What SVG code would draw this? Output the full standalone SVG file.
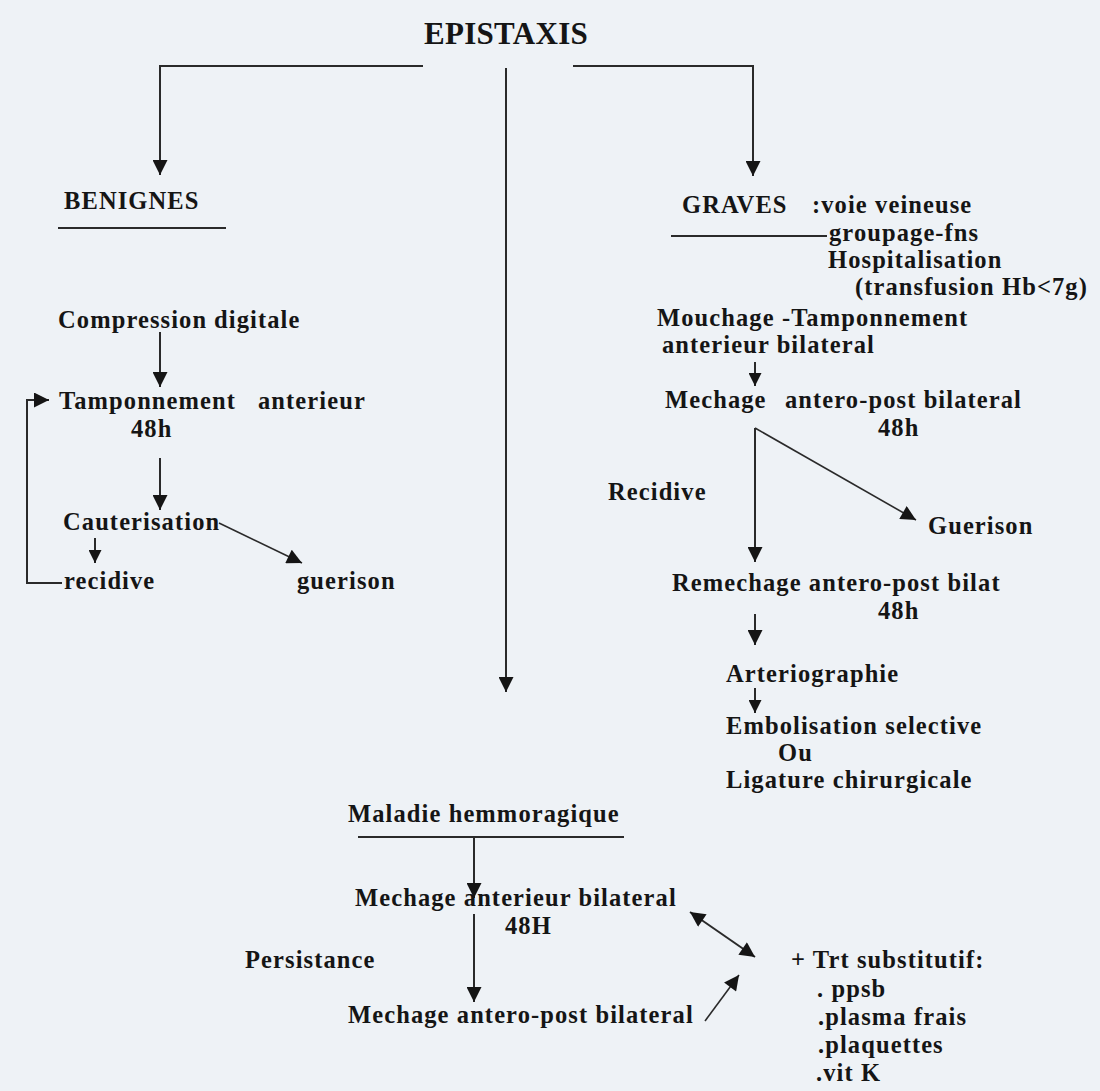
<svg xmlns="http://www.w3.org/2000/svg" width="1100" height="1091" viewBox="0 0 1100 1091">
<style>
.t{font-family:"Liberation Serif","Times New Roman",serif;font-weight:bold;font-size:24.5px;letter-spacing:1.1px;fill:#151515}
.h{font-size:31px;letter-spacing:0.3px}
.ln{fill:none;stroke:#2a2a2a;stroke-width:2}
.th{stroke-width:1.6}
</style>
<defs>
<marker id="a" viewBox="0 0 10 10" refX="10" refY="5" markerWidth="16" markerHeight="15" markerUnits="userSpaceOnUse" orient="auto-start-reverse">
<path d="M0,0 L10,5 L0,10 z" fill="#151515"/>
</marker>
<marker id="s" viewBox="0 0 10 10" refX="10" refY="5" markerWidth="14" markerHeight="13" markerUnits="userSpaceOnUse" orient="auto-start-reverse">
<path d="M0,0 L10,5 L0,10 z" fill="#151515"/>
</marker>
</defs>
<rect x="0" y="0" width="1100" height="1091" fill="#eef2f6"/>

<g id="connectors">
<path class="ln" d="M423,66 H160 V175" marker-end="url(#a)"/>
<path class="ln" d="M506,68 V692" marker-end="url(#a)"/>
<path class="ln" d="M573,66 H753 V176" marker-end="url(#a)"/>
<path class="ln" d="M160,332 V387" marker-end="url(#a)"/>
<path class="ln" d="M160,458 V510" marker-end="url(#a)"/>
<path class="ln th" d="M219,523 L302,563" marker-end="url(#a)"/>
<path class="ln" d="M95,538 V563" marker-end="url(#s)"/>
<path class="ln" d="M62,583 H27 V400 H49" marker-end="url(#a)"/>
<path class="ln" d="M755,362 V386" marker-end="url(#s)"/>
<path class="ln" d="M755,428 V562" marker-end="url(#a)"/>
<path class="ln th" d="M755,428 L916,520" marker-end="url(#a)"/>
<path class="ln" d="M755,614 V645" marker-end="url(#a)"/>
<path class="ln" d="M755,688 V713" marker-end="url(#s)"/>
<path class="ln" d="M474,837 V898" marker-end="url(#a)"/>
<path class="ln" d="M474,914 V1002" marker-end="url(#a)"/>
<path class="ln" d="M690,912 L755,957" marker-start="url(#a)" marker-end="url(#a)"/>
<path class="ln th" d="M705,1021 L739,975" marker-end="url(#a)"/>
</g>

<g id="n-epistaxis"><text class="t h" x="424" y="44">EPISTAXIS</text></g>

<g id="n-benignes">
<text class="t" x="64" y="209">BENIGNES</text>
<line class="ln" x1="58" y1="228" x2="226" y2="228"/>
</g>

<g id="n-graves">
<text class="t" x="682" y="213">GRAVES<tspan x="812">:voie veineuse</tspan></text>
<line class="ln" x1="671" y1="236" x2="827" y2="236"/>
<text class="t" x="829" y="241">groupage-fns</text>
<text class="t" x="828" y="268">Hospitalisation</text>
<text class="t" x="855" y="295">(transfusion Hb&lt;7g)</text>
</g>

<g id="n-mouchage">
<text class="t" x="657" y="326">Mouchage -Tamponnement</text>
<text class="t" x="662" y="353">anterieur bilateral</text>
</g>

<g id="n-mechage-ap">
<text class="t" x="665" y="408">Mechage<tspan x="785">antero-post bilateral</tspan></text>
<text class="t" x="878" y="436">48h</text>
</g>

<g id="n-recidive-r"><text class="t" x="608" y="500">Recidive</text></g>
<g id="n-guerison-r"><text class="t" x="928" y="534">Guerison</text></g>

<g id="n-remechage">
<text class="t" x="672" y="591">Remechage antero-post bilat</text>
<text class="t" x="878" y="619">48h</text>
</g>

<g id="n-arterio"><text class="t" x="726" y="682">Arteriographie</text></g>

<g id="n-embol">
<text class="t" x="726" y="734">Embolisation selective</text>
<text class="t" x="778" y="761">Ou</text>
<text class="t" x="726" y="788">Ligature chirurgicale</text>
</g>

<g id="n-compression"><text class="t" x="58" y="328">Compression<tspan x="214">digitale</tspan></text></g>

<g id="n-tamponnement">
<text class="t" x="59" y="409">Tamponnement<tspan x="258">anterieur</tspan></text>
<text class="t" x="131" y="437">48h</text>
</g>

<g id="n-cauterisation"><text class="t" x="63" y="530">Cauterisation</text></g>
<g id="n-recidive-l"><text class="t" x="64" y="589">recidive</text></g>
<g id="n-guerison-l"><text class="t" x="297" y="589">guerison</text></g>

<g id="n-maladie">
<text class="t" x="348" y="822">Maladie hemmoragique</text>
<line class="ln" x1="358" y1="837" x2="624" y2="837"/>
</g>

<g id="n-mechage-ant">
<text class="t" x="355" y="906">Mechage anterieur bilateral</text>
<text class="t" x="505" y="934">48H</text>
</g>

<g id="n-persistance"><text class="t" x="245" y="968">Persistance</text></g>

<g id="n-mechage-ap2"><text class="t" x="348" y="1023">Mechage antero-post bilateral</text></g>

<g id="n-trt">
<text class="t" x="791" y="968">+ Trt substitutif:</text>
<text class="t" x="817" y="997">. ppsb</text>
<text class="t" x="818" y="1025">.plasma frais</text>
<text class="t" x="818" y="1053">.plaquettes</text>
<text class="t" x="816" y="1081">.vit K</text>
</g>
</svg>
